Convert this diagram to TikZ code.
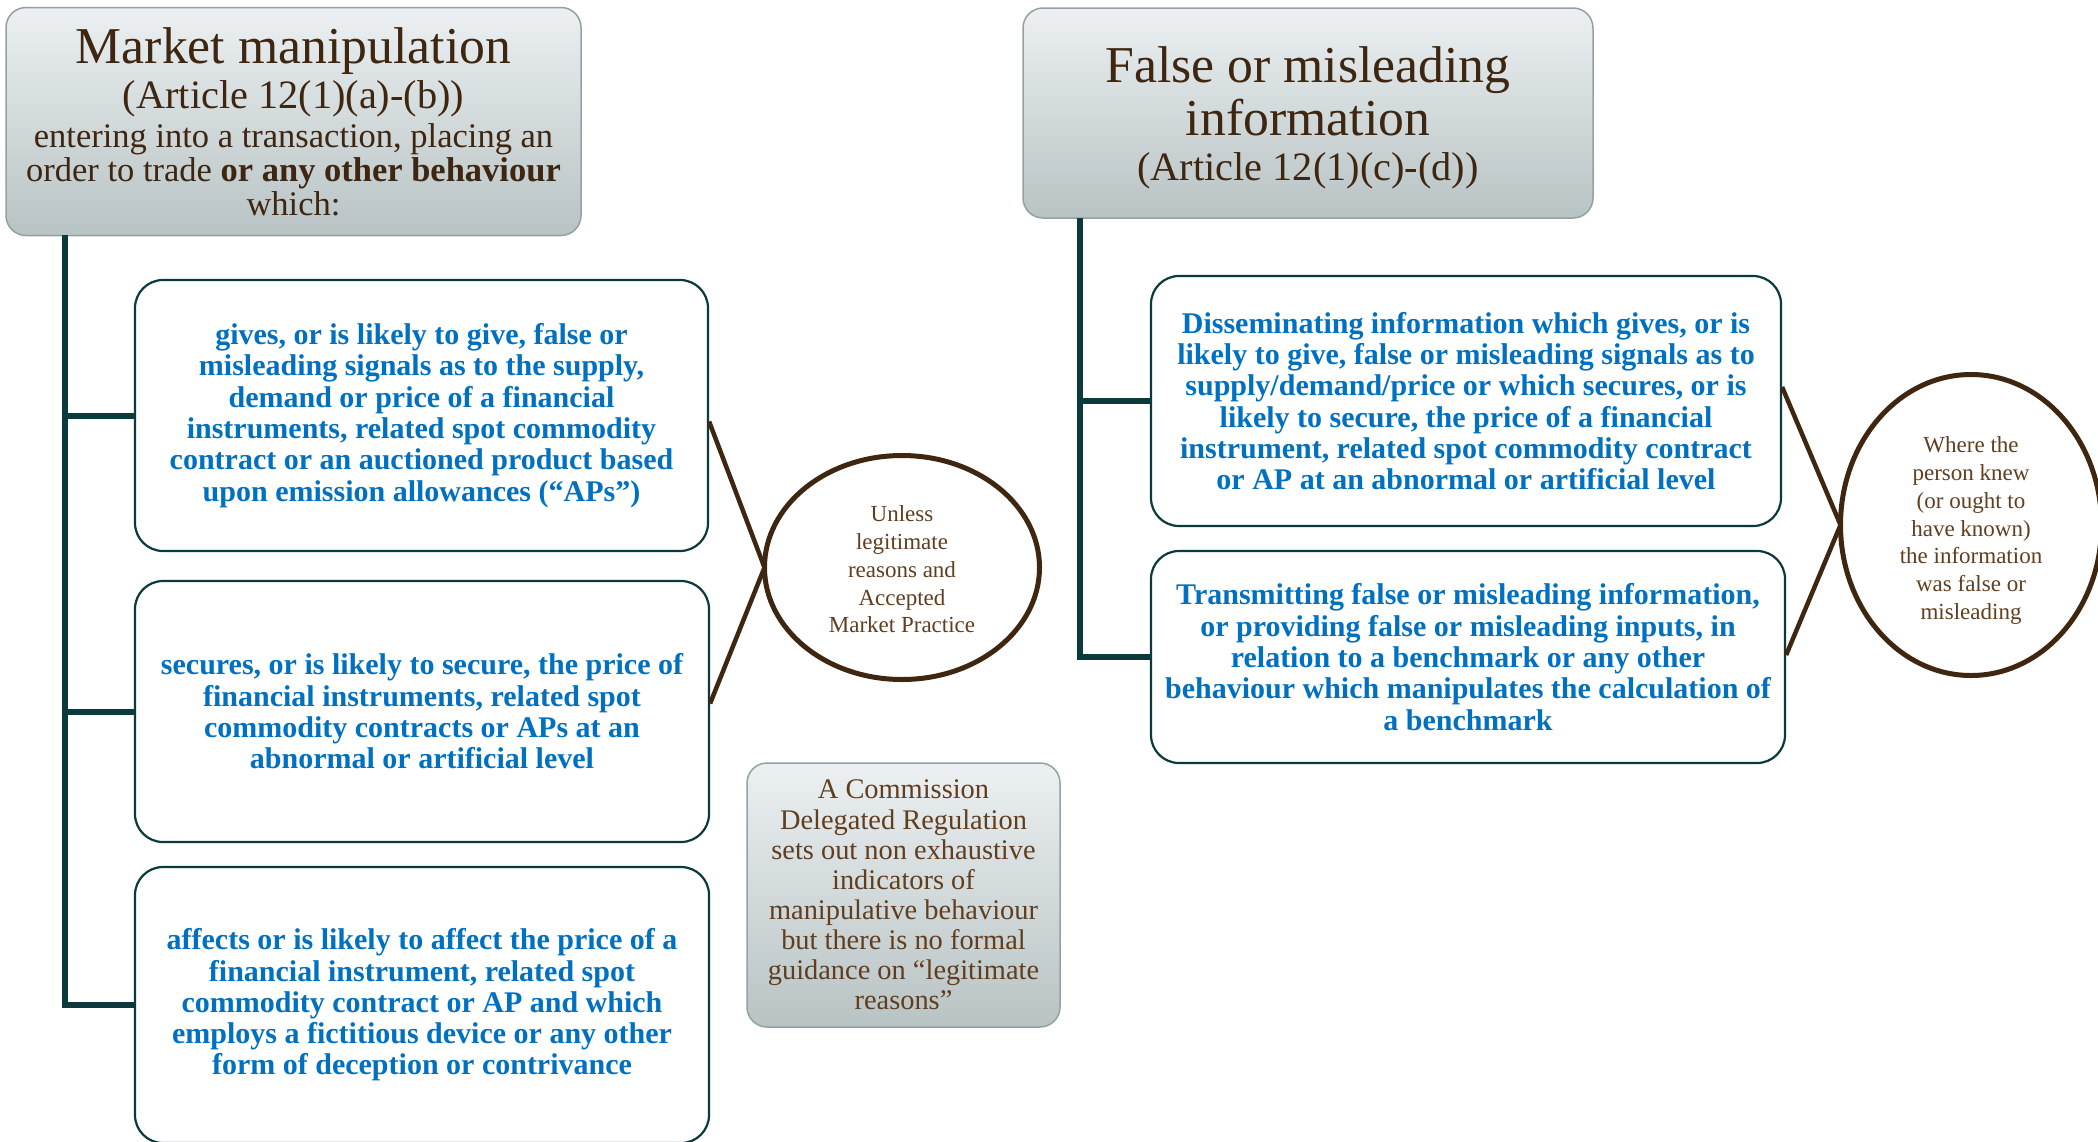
\documentclass[tikz,border=0pt]{standalone}
\usepackage{fontspec}
\setmainfont{Liberation Serif}
\usetikzlibrary{shapes.geometric,calc}
\definecolor{tealln}{RGB}{10,58,60}
\definecolor{bluetx}{RGB}{0,112,192}
\definecolor{brownd}{RGB}{62,38,16}
\definecolor{brownm}{RGB}{96,62,30}
\definecolor{grayt}{RGB}{236,240,242}
\definecolor{grayb}{RGB}{184,195,196}
\definecolor{grayedge}{RGB}{150,160,162}
\begin{document}
\begin{tikzpicture}[x=1pt,y=-1pt,
  graybox/.style={rounded corners=20pt, top color=grayt, bottom color=grayb, draw=grayedge, line width=1.5pt, inner sep=0pt},
  bluebox/.style={rounded corners=28pt, draw=tealln, line width=2.2pt, fill=white, align=center, text=bluetx, font=\fontsize{30}{31.3}\selectfont\bfseries, inner sep=0pt},
  conn/.style={draw=tealln, line width=6pt, line join=miter},
  xline/.style={draw=brownd, line width=4.5pt},
  oval/.style={ellipse, draw=brownd, fill=white, line width=5pt, inner sep=0pt},
  ovaltx/.style={align=center, text=brownm, inner sep=0pt, font=\fontsize{23}{27.75}\selectfont},
  headtx/.style={text=brownd, inner sep=0pt, anchor=base},
]
\useasboundingbox (0,0) rectangle (2098,1141);

\coordinate (lt) at (65,235);
\coordinate (rt) at (1080,218);

% top-left box
\node[graybox, minimum width=575pt, minimum height=228pt] (tl) at (293.5,121.5) {};
\node[headtx, font=\fontsize{51.7}{54}\selectfont] (tlh) at (293.5,63) {Market manipulation};
\node[headtx, font=\fontsize{40.3}{42}\selectfont] (tla) at (293.5,108) {(Article 12(1)(a)-(b))};
\node[headtx, font=\fontsize{34.5}{34.5}\selectfont] (tlb1) at (293.5,147) {entering into a transaction, placing an};
\node[headtx, font=\fontsize{34.5}{34.5}\selectfont] (tlb2) at (293.5,181) {order to trade \textbf{or any other behaviour}};
\node[headtx, font=\fontsize{34.5}{34.5}\selectfont] (tlb3) at (293.5,215) {which:};

% top-right box
\node[graybox, minimum width=570pt, minimum height=210pt] (tr) at (1308,113) {};
\node[headtx, font=\fontsize{51.7}{54}\selectfont] (trh1) at (1308,82) {False or misleading};
\node[headtx, font=\fontsize{51.7}{54}\selectfont] (trh2) at (1308,135) {information};
\node[headtx, font=\fontsize{40.3}{42}\selectfont] (tra) at (1308,180) {(Article 12(1)(c)-(d))};

% left blue boxes
\node[bluebox, minimum width=573pt, minimum height=271pt] (b1) at (421.5,415.5)
 {gives, or is likely to give, false or\\misleading signals as to the supply,\\demand or price of a financial\\instruments, related spot commodity\\contract or an auctioned product based\\upon emission allowances (“APs”)};
\node[bluebox, minimum width=574pt, minimum height=261pt] (b2) at (422,711.5)
 {secures, or is likely to secure, the price of\\financial instruments, related spot\\commodity contracts or APs at an\\abnormal or artificial level};
\node[bluebox, minimum width=574pt, minimum height=276pt] (b3) at (422,1005)
 {affects or is likely to affect the price of a\\financial instrument, related spot\\commodity contract or AP and which\\employs a fictitious device or any other\\form of deception or contrivance};

% right blue boxes
\node[bluebox, minimum width=630pt, minimum height=250pt] (r1) at (1466,401)
 {Disseminating information which gives, or is\\likely to give, false or misleading signals as to\\supply/demand/price or which secures, or is\\likely to secure, the price of a financial\\instrument, related spot commodity contract\\or AP at an abnormal or artificial level};
\node[bluebox, minimum width=634pt, minimum height=212pt] (r2) at (1468,657)
 {Transmitting false or misleading information,\\or providing false or misleading inputs, in\\relation to a benchmark or any other\\behaviour which manipulates the calculation of\\a benchmark};

% tree connectors
\draw[conn] (lt) |- (b3.west);
\draw[conn] (lt) |- (b1.west);
\draw[conn] (lt) |- (b2.west);
\draw[conn] (rt) |- (r2.west);
\draw[conn] (rt) |- (r1.west);

% ellipses
\coordinate (e1w) at (764.5,567.5);
\coordinate (e2w) at (1840.5,525);
\draw[xline] ($(b1.east)+(0,6)$) -- (e1w) -- ($(b2.east)+(0,-8)$);
\draw[xline] ($(r1.east)+(0,-14)$) -- (e2w) -- ($(r2.east)+(0,-2)$);
\node[oval, minimum width=275pt, minimum height=224pt] (e1) at (902,567.5) {};
\node[ovaltx] (e1t) at (902,569.5) {Unless\\legitimate\\reasons and\\Accepted\\Market Practice};
\node[oval, minimum width=261pt, minimum height=301pt] (e2) at (1971,525) {};
\node[ovaltx] (e2t) at (1971,530.5) {Where the\\person knew\\(or ought to\\have known)\\the information\\was false or\\misleading};

% commission box
\node[graybox, minimum width=313pt, minimum height=264pt, align=center, text=brownm, font=\fontsize{28.4}{30.1}\selectfont] (cm) at (903.5,895)
 {A Commission\\Delegated Regulation\\sets out non exhaustive\\indicators of\\manipulative behaviour\\but there is no formal\\guidance on “legitimate\\reasons”};
\end{tikzpicture}
\end{document}
